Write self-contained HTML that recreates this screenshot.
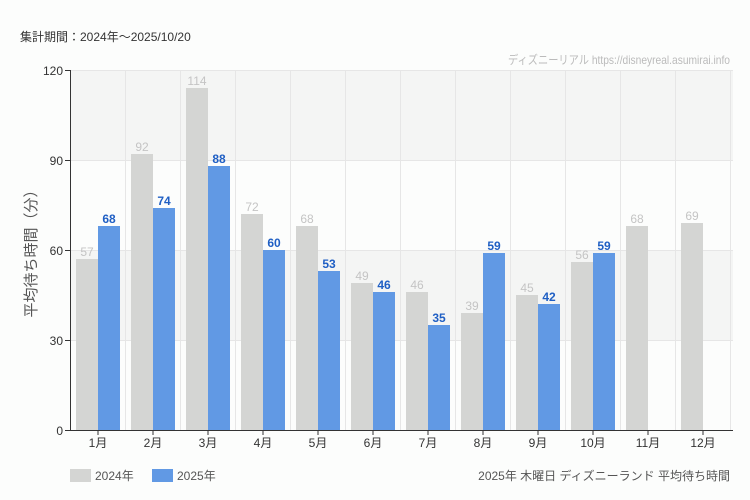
<!DOCTYPE html><html><head><meta charset="utf-8"><style>
body{margin:0;background:#fcfdfc;}
svg{display:block;font-family:"Liberation Sans","Noto Sans CJK JP",sans-serif;}
.n{font-family:"Liberation Sans Narrow","Liberation Sans","Noto Sans CJK JP",sans-serif;}
</style></head><body>
<svg width="750" height="500" viewBox="0 0 750 500">
<rect width="750" height="500" fill="#fcfdfc"/>
<text x="20" y="41" font-size="12" fill="#333">集計期間：2024年～2025/10/20</text>
<text x="730" y="64" font-size="12" fill="#bbb" text-anchor="end" class="n" textLength="222" lengthAdjust="spacingAndGlyphs">ディズニーリアル https://disneyreal.asumirai.info</text>
<rect x="70" y="70" width="663" height="90" fill="#f4f5f4"/>
<rect x="70" y="160" width="663" height="90" fill="#fcfdfc"/>
<rect x="70" y="250" width="663" height="90" fill="#f4f5f4"/>
<rect x="70" y="340" width="663" height="90" fill="#fcfdfc"/>
<g stroke="#e6e6e6" stroke-width="1">
<line x1="70" y1="70.5" x2="733" y2="70.5"/><line x1="70" y1="160.5" x2="733" y2="160.5"/><line x1="70" y1="250.5" x2="733" y2="250.5"/><line x1="70" y1="340.5" x2="733" y2="340.5"/>
<line x1="125.5" y1="70" x2="125.5" y2="430"/><line x1="180.5" y1="70" x2="180.5" y2="430"/><line x1="235.5" y1="70" x2="235.5" y2="430"/><line x1="290.5" y1="70" x2="290.5" y2="430"/><line x1="345.5" y1="70" x2="345.5" y2="430"/><line x1="400.5" y1="70" x2="400.5" y2="430"/><line x1="455.5" y1="70" x2="455.5" y2="430"/><line x1="510.5" y1="70" x2="510.5" y2="430"/><line x1="565.5" y1="70" x2="565.5" y2="430"/><line x1="620.5" y1="70" x2="620.5" y2="430"/><line x1="675.5" y1="70" x2="675.5" y2="430"/><line x1="730.5" y1="70" x2="730.5" y2="430"/>
</g>
<g id="bars"></g>
<line x1="70.5" y1="70" x2="70.5" y2="430" stroke="#333"/>
<line x1="70" y1="430.5" x2="733" y2="430.5" stroke="#333"/>
<g stroke="#333"><line x1="65" y1="70.5" x2="70" y2="70.5"/><line x1="65" y1="160.5" x2="70" y2="160.5"/><line x1="65" y1="250.5" x2="70" y2="250.5"/><line x1="65" y1="340.5" x2="70" y2="340.5"/><line x1="65" y1="430.5" x2="70" y2="430.5"/></g>
<g font-size="12" fill="#333" text-anchor="end" class="n">
<text x="63" y="75">120</text><text x="63" y="165">90</text><text x="63" y="255">60</text><text x="63" y="345">30</text><text x="63" y="435">0</text>
</g>
<text transform="translate(36,250) rotate(-90)" font-size="15" fill="#555" text-anchor="middle">平均待ち時間（分）</text>
<rect x="70" y="469" width="21" height="13" fill="#d4d5d3"/>
<text x="95" y="480" font-size="12" fill="#555">2024年</text>
<rect x="152" y="469" width="21" height="13" fill="#6199e4"/>
<text x="177" y="480" font-size="12" fill="#555">2025年</text>
<text x="730" y="480" font-size="12" fill="#555" text-anchor="end">2025年 木曜日 ディズニーランド 平均待ち時間</text>
</svg>
<script>
var a=[57,92,114,72,68,49,46,39,45,56,68,69],b=[68,74,88,60,53,46,35,59,42,59,null,null];
var g=document.getElementById('bars'),s='';
for(var i=0;i<12;i++){var L=70+55*i;
var y=430-3*a[i];s+='<rect x="'+(L+6)+'" y="'+y+'" width="22" height="'+(3*a[i])+'" fill="#d4d5d3"/>';
s+='<text class="n" x="'+(L+17)+'" y="'+(y-3)+'" font-size="12" fill="#c4c4c4" text-anchor="middle">'+a[i]+'</text>';
if(b[i]!=null){y=430-3*b[i];s+='<rect x="'+(L+28)+'" y="'+y+'" width="22" height="'+(3*b[i])+'" fill="#6199e4"/>';
s+='<text class="n" x="'+(L+39)+'" y="'+(y-3)+'" font-size="12" font-weight="bold" fill="#1f5fc4" text-anchor="middle">'+b[i]+'</text>';}
s+='<line x1="'+(L+28)+'" y1="430" x2="'+(L+28)+'" y2="435" stroke="#333"/>';
s+='<text x="'+(L+28)+'" y="447" font-size="12" fill="#333" text-anchor="middle">'+(i+1)+'月</text>';}
g.innerHTML=s;
</script>
</body></html>
